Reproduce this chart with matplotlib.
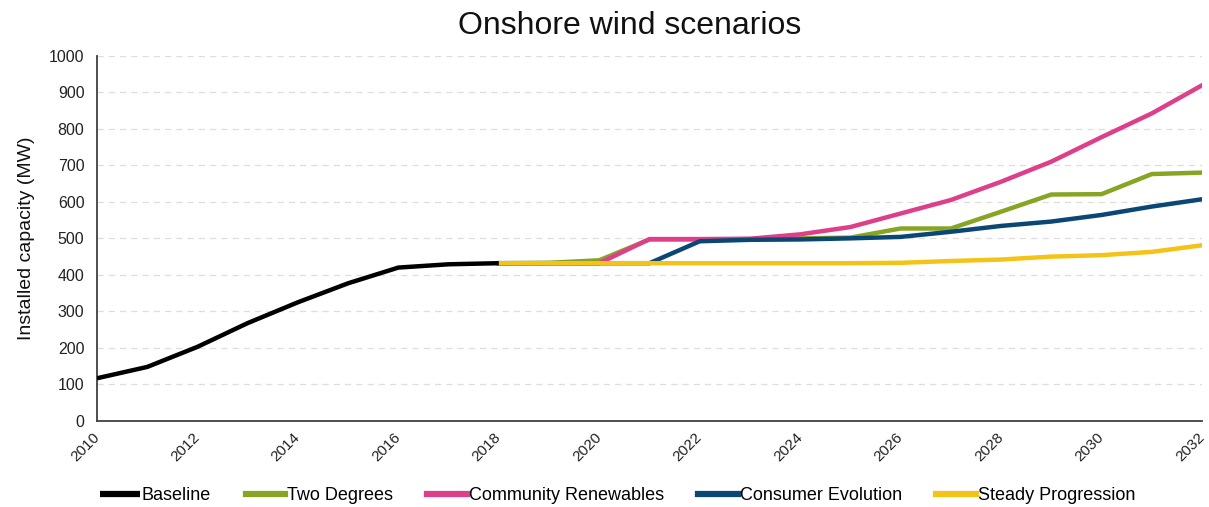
import matplotlib
matplotlib.use("Agg")
import matplotlib.pyplot as plt
from matplotlib import font_manager

years_base = [2010, 2011, 2012, 2013, 2014, 2015, 2016, 2017, 2018]
baseline = [117, 148, 203, 268, 325, 377, 420, 429, 432]

years_scen = list(range(2018, 2033))
two_degrees = [432, 433, 440, 497, 497, 498, 500, 502, 527, 527, 573, 620, 621, 676, 680]
community_renewables = [432, 432, 432, 498, 498, 499, 511, 531, 568, 605, 655, 710, 777, 842, 919]
consumer_evolution = [432, 432, 432, 432, 492, 496, 497, 500, 504, 518, 534, 546, 564, 587, 607]
steady_progression = [432, 432, 432, 432, 432, 432, 432, 432, 433, 438, 442, 450, 454, 463, 481]

x_ticks = list(range(2010, 2033, 2))
y_ticks = list(range(0, 1001, 100))

names = [f.name for f in font_manager.fontManager.ttflist]
main_font = "Liberation Sans" if "Liberation Sans" in names else "DejaVu Sans"
plt.rcParams['font.family'] = [main_font, 'DejaVu Sans']

fig = plt.figure(figsize=(12.09, 5.07), dpi=100)
ax = fig.add_axes([97/1209, 1-421/507, (1202-97)/1209, (421-55.7)/507])

lw = 3.2
ax.plot(years_base, baseline, color='#000000', lw=lw, label='Baseline', solid_capstyle='butt', zorder=5)
ax.plot(years_scen, two_degrees, color='#87A523', lw=lw, label='Two Degrees', zorder=3)
ax.plot(years_scen, community_renewables, color='#DE3F8B', lw=lw, label='Community Renewables', zorder=3.2)
ax.plot(years_scen, consumer_evolution, color='#0B4775', lw=lw, label='Consumer Evolution', zorder=3.4)
ax.plot(years_scen, steady_progression, color='#F3C317', lw=lw, label='Steady Progression', zorder=3.6)

ax.set_xlim(2010, 2032)
ax.set_ylim(0, 1000)
ax.set_xticks(x_ticks)
ax.set_xticklabels([str(t) for t in x_ticks], rotation=45, ha='right', va='center',
                   rotation_mode='anchor', fontsize=11, color='#222222')
ax.set_yticks(y_ticks)
ax.set_yticklabels([str(t) for t in y_ticks], fontsize=11.5, color='#222222')
ax.tick_params(axis='y', length=0, pad=9)
ax.tick_params(axis='x', length=0, pad=10)
ax.grid(axis='y', linestyle=(0, (5, 4)), color='#dedede', lw=0.9)
ax.set_axisbelow(True)
for s in ['top', 'right']:
    ax.spines[s].set_visible(False)
for s in ['left', 'bottom']:
    ax.spines[s].set_color('#404040')
    ax.spines[s].set_linewidth(1.3)

ax.set_ylabel('Installed capacity (MW)', fontsize=14, color='#111111', labelpad=10)
fig.text(0.521, 0.948, 'Onshore wind scenarios', ha='center', va='center', fontsize=23, color='#111111')

leg = fig.legend(loc='center', bbox_to_anchor=(0.511, 0.023), ncol=5, frameon=False,
                 handlelength=2.2, handletextpad=0.1, columnspacing=1.9,
                 prop={'size': 13})
for h in leg.get_lines():
    h.set_linewidth(4.5)

fig.savefig('out.png', dpi=100)
